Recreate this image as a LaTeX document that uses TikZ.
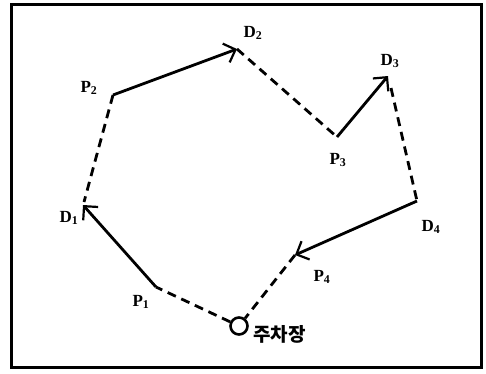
\documentclass[tikz,border=0pt]{standalone}
\usepackage{fontspec}
\setmainfont{Liberation Serif}
\newfontfamily\krfont{Noto Sans CJK KR}
\usetikzlibrary{arrows.meta}
\begin{document}
\begin{tikzpicture}[x=1pt,y=-1pt,
  lbl/.style={font=\bfseries\fontsize{17}{17}\selectfont, inner sep=0pt},
  route/.style={line width=2.8pt, -{Straight Barb[length=10pt,width=20pt,line width=2.2pt]}},
  empty/.style={line width=2.8pt, dash pattern=on 9pt off 6pt}]
\useasboundingbox (0,0) rectangle (486,373);
\draw[line width=3pt] (11,4) rectangle (481,367);
% points
\coordinate (P2) at (113,95);
\coordinate (D2) at (237,49);
\coordinate (P3) at (337,137);
\coordinate (D3) at (388,76);
\coordinate (D3b) at (391,88);
\coordinate (D4) at (417,201);
\coordinate (P4) at (295,255);
\coordinate (P1) at (156,287);
\coordinate (D1) at (83,205);
\coordinate (D1b) at (84,202);
\node[draw, circle, line width=2.6pt, minimum size=17pt, inner sep=0pt] (home) at (239,326) {};
% labels
\node[lbl] (lD2) at (253,33) {D$_{\mathbf 2}$};
\node[lbl] (lP2) at (89,88) {P$_{\mathbf 2}$};
\node[lbl] (lD3) at (390,61) {D$_{\mathbf 3}$};
\node[lbl] (lP3) at (338,160) {P$_{\mathbf 3}$};
\node[lbl] (lD1) at (69,218) {D$_{\mathbf 1}$};
\node[lbl] (lD4) at (431,227) {D$_{\mathbf 4}$};
\node[lbl] (lP4) at (322,277) {P$_{\mathbf 4}$};
\node[lbl] (lP1) at (141,302) {P$_{\mathbf 1}$};
\node[font=\krfont\bfseries\fontsize{19}{19}\selectfont, inner sep=0pt, anchor=west] (park) at (253,334) {주차장};
% route
\draw[empty] (home) -- (P1);
\draw[route] (P1) -- (D1);
\draw[empty] (P2) -- (D1b);
\draw[route] (P2) -- (D2);
\draw[empty] (D2) -- (P3);
\draw[route] (P3) -- (D3);
\draw[empty] (D3b) -- (D4);
\draw[route] (D4) -- (P4);
\draw[empty] (P4) -- (home);
\end{tikzpicture}
\end{document}
